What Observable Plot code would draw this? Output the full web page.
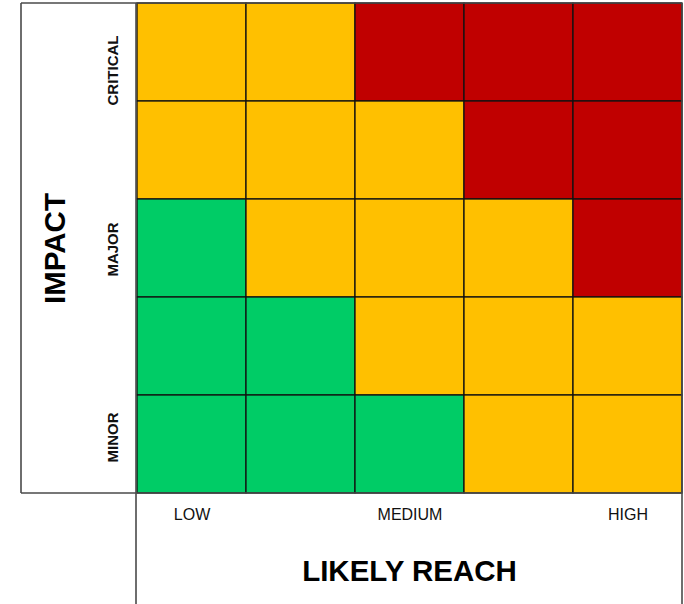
<!DOCTYPE html>
<html>
<head>
<meta charset="utf-8">
<script src="https://cdn.jsdelivr.net/npm/d3@7"></script>
<script src="https://cdn.jsdelivr.net/npm/@observablehq/plot@0.6"></script>
<style>
  html, body { margin: 0; padding: 0; background: #fff; }
  svg { display: block; }
</style>
</head>
<body>
<div id="chart"></div>
<script>
// Columns (likely reach), left to right, and rows (impact), top to bottom
const reachLevels = [1, 2, 3, 4, 5];
const impactLevels = [5, 4, 3, 2, 1];

// Risk level of each cell, rows top (critical) to bottom (minor)
const riskRows = [
  ["medium", "medium", "high", "high", "high"],
  ["medium", "medium", "medium", "high", "high"],
  ["low", "medium", "medium", "medium", "high"],
  ["low", "low", "medium", "medium", "medium"],
  ["low", "low", "low", "medium", "medium"]
];

const reachTickLevels = [1, 3, 5];
const reachTickLabels = ["LOW", "MEDIUM", "HIGH"];
const impactTickLevels = [5, 3, 1];
const impactTickLabels = ["CRITICAL", "MAJOR", "MINOR"];

const xTitle = "LIKELY REACH";
const yTitle = "IMPACT";

const riskLevels = ["low", "medium", "high"];
const riskColors = ["#00CC66", "#FFC000", "#C00000"];

// build table
const cells = [];
riskRows.forEach((row, r) => row.forEach((risk, c) => {
  cells.push({reach: reachLevels[c], impact: impactLevels[r], risk});
}));

// label nudges (layout)
const impactNudge = {CRITICAL: 18, MAJOR: 1, MINOR: -7};

const font = "'Liberation Sans', Arial, Helvetica, sans-serif";

const chart = Plot.plot({
  width: 684,
  height: 604,
  marginLeft: 136,
  marginRight: 2,
  marginTop: 3,
  marginBottom: 111,
  style: {fontFamily: font, background: "#fff", overflow: "visible"},
  x: {type: "band", domain: reachLevels, padding: 0, axis: null},
  y: {type: "band", domain: impactLevels, padding: 0, axis: null},
  color: {domain: riskLevels, range: riskColors},
  marks: [
    Plot.cell(cells, {x: "reach", y: "impact", fill: "risk", stroke: "#111", strokeWidth: 1.3, inset: 0}),
    Plot.text(reachTickLevels, {
      x: d => d, text: (d, i) => reachTickLabels[i],
      frameAnchor: "bottom", lineAnchor: "top", dy: 15,
      fontSize: 16, fill: "#111"
    }),
    ...impactTickLevels.map((lvl, i) => Plot.text([lvl], {
      y: d => d, text: () => impactTickLabels[i],
      frameAnchor: "left", rotate: -90, textAnchor: "middle", lineAnchor: "middle",
      dx: -23.5, dy: impactNudge[impactTickLabels[i]],
      fontSize: 15, fontWeight: "bold", fill: "#111"
    })),
    Plot.text([xTitle], {
      text: d => d, frameAnchor: "bottom", lineAnchor: "top", dy: 67,
      fontSize: 29.5, fontWeight: "bold", fill: "#000"
    }),
    Plot.text([yTitle], {
      text: d => d, frameAnchor: "left", rotate: -90, textAnchor: "middle", lineAnchor: "middle",
      dx: -81, fontSize: 29.5, fontWeight: "bold", fill: "#000"
    })
  ]
});

document.getElementById("chart").append(chart);

// frame lines derived from the scales
const sx = chart.scale("x"), sy = chart.scale("y");
const gx0 = sx.range[0], gx1 = sx.range[1];
const gy0 = sy.range[0], gy1 = sy.range[1];
const outerLeft = 21;
const svg = d3.select(chart);
const g = svg.append("g").attr("stroke", "#4a4a4a").attr("stroke-width", 1.6).attr("fill", "none");
const segs = [
  [outerLeft, gy0, gx1, gy0],      // top
  [outerLeft, gy0, outerLeft, gy1],// outer left
  [outerLeft, gy1, gx1, gy1],      // bottom of grid
  [gx0, gy0, gx0, 604],            // grid left, down to bottom
  [gx1, gy0, gx1, 604]             // right
];
segs.forEach(([x1, y1, x2, y2]) => g.append("line").attr("x1", x1).attr("y1", y1).attr("x2", x2).attr("y2", y2));
</script>
</body>
</html>
